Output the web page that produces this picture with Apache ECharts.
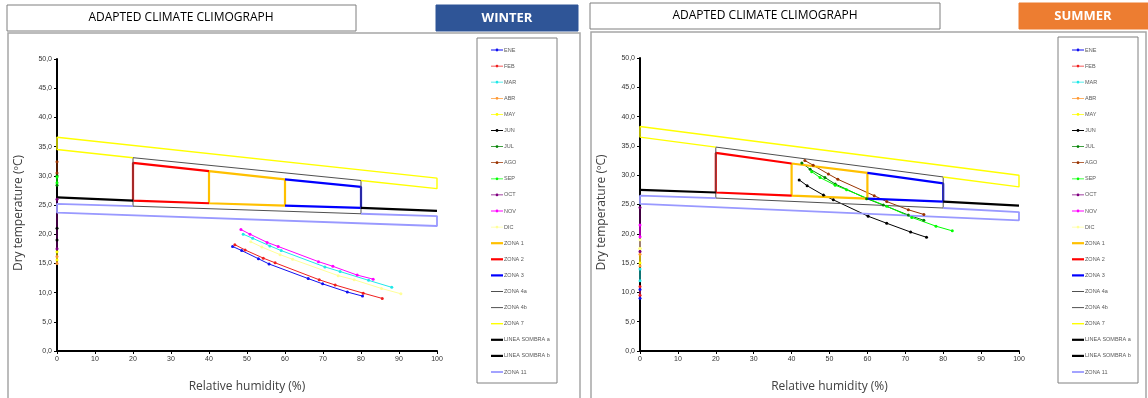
<!DOCTYPE html>
<html>
<head>
<meta charset="utf-8">
<script src="https://cdn.jsdelivr.net/npm/echarts@6/dist/echarts.min.js"></script>
<style>
  html, body { margin: 0; padding: 0; background: #fff; }
  #chart { width: 1148px; height: 398px; }
</style>
</head>
<body>
<div id="chart"></div>
<script>
// legend order and colours
const seriesNames = ['ENE', 'FEB', 'MAR', 'ABR', 'MAY', 'JUN', 'JUL', 'AGO', 'SEP', 'OCT', 'NOV', 'DIC',
  'ZONA 1', 'ZONA 2', 'ZONA 3', 'ZONA 4a', 'ZONA 4b', 'ZONA 7', 'LINEA SOMBRA a', 'LINEA SOMBRA b', 'ZONA 11']
const monthColors = ['#1010F0', '#F02020', '#20E8E8', '#FF9933', '#FFFF00', '#000000',
  '#008000', '#993300', '#00FF00', '#800080', '#FF00FF', '#FFFF99']

const xTicks = [0, 10, 20, 30, 40, 50, 60, 70, 80, 90, 100]
const yTicks = [0, 5, 10, 15, 20, 25, 30, 35, 40, 45, 50]

// WINTER  [relative humidity %, dry temperature ºC]
const winterENE = [[46.2, 17.9], [48.6, 17.2], [53.0, 15.8], [55.8, 14.9], [66.1, 12.4], [69.9, 11.5], [76.4, 10.1], [80.4, 9.4]]
const winterFEB = [[46.8, 18.2], [49.5, 17.3], [54.3, 15.9], [57.4, 15.1], [69.0, 12.2], [73.2, 11.3], [80.6, 9.9], [85.6, 9.0]]
const winterMAR = [[49.0, 20.0], [51.5, 19.3], [56.0, 18.0], [59.0, 17.2], [70.5, 14.4], [74.5, 13.6], [82.0, 12.1], [88.1, 10.9]]
const winterABR = [[0, 15.0], [0, 16.2]]
const winterMAY = [[0, 15.6], [0, 17.0]]
const winterJUN = [[0, 19.0], [0, 21.0]]
const winterJUL = [[0, 28.4], [0, 30.0]]
const winterAGO = [[0, 30.5], [0, 32.4]]
const winterSEP = [[0, 28.8], [0, 29.8]]
const winterOCT = [[0, 17.5], [0, 26.0]]
const winterNOV = [[48.4, 20.8], [50.8, 20.0], [55.3, 18.6], [58.2, 17.9], [68.8, 15.3], [72.6, 14.5], [79.0, 13.0], [83.2, 12.3]]
const winterDIC = [[51.0, 18.7], [53.9, 17.8], [58.7, 16.5], [62.0, 15.7], [74.0, 12.9], [78.2, 12.2], [85.4, 10.7], [90.5, 9.8]]

const winterZona1 = [[40, 30.8], [60, 29.4], [60, 24.9], [40, 25.3], [40, 30.8]]
const winterZona2 = [[40, 30.8], [20, 32.2], [20, 25.75], [40, 25.3]]
const winterZona3 = [[60, 29.4], [80, 28.1], [80, 24.5], [60, 24.9]]
const winterZona4a = [[20, 24.8], [20, 33.1], [80, 29.2]]
const winterZona4b = [[80, 29.2], [80, 23.5], [20, 24.8]]
const winterZona7 = [[20, 33.1], [0, 34.5], [0, 36.6], [100, 29.6], [100, 27.8], [80, 29.2]]
const winterLineaA = [[0, 26.3], [20, 25.75]]
const winterLineaB = [[80, 24.5], [100, 24.0]]
const winterZona11 = [[20, 24.8], [0, 25.2], [0, 23.7], [100, 21.4], [100, 23.1], [80, 23.5]]

// SUMMER
const summerENE = [[0, 9.0], [0, 10.5]]
const summerFEB = [[0, 9.5], [0, 11.0]]
const summerMAR = [[0, 12.0], [0, 14.0]]
const summerABR = [[0, 14.5], [0, 16.5]]
const summerMAY = [[0, 15.0], [0, 17.5]]
const summerJUN = [[42.0, 29.2], [44.1, 28.2], [48.4, 26.6], [51.0, 25.8], [60.2, 23.0], [65.1, 21.8], [71.4, 20.3], [75.6, 19.4]]
const summerJUL = [[42.7, 32.1], [44.9, 31.0], [48.8, 29.6], [51.5, 28.5], [59.8, 26.0], [64.2, 24.9], [70.8, 23.2], [74.9, 22.3]]
const summerAGO = [[43.5, 32.5], [45.7, 31.7], [49.7, 30.2], [52.2, 29.3], [61.8, 26.5], [65.1, 25.5], [70.8, 24.1], [74.9, 23.3]]
const summerSEP = [[45.3, 30.6], [47.5, 29.6], [51.5, 28.3], [54.5, 27.5], [65.1, 24.7], [71.7, 22.8], [78.1, 21.3], [82.4, 20.5]]
const summerOCT = [[0, 17.0], [0, 24.5]]
const summerNOV = [[0, 19.5], [0, 21.5]]
const summerDIC = [[0, 17.5], [0, 19.0]]

const summerZona1 = [[40, 32.0], [60, 30.4], [60, 26.0], [40, 26.5], [40, 32.0]]
const summerZona2 = [[40, 32.0], [20, 33.8], [20, 27.05], [40, 26.5]]
const summerZona3 = [[60, 30.4], [80, 28.6], [80, 25.5], [60, 26.0]]
const summerZona4a = [[20, 26.1], [20, 34.8], [80, 29.7]]
const summerZona4b = [[80, 29.7], [80, 24.4], [20, 26.1]]
const summerZona7 = [[20, 34.8], [0, 36.5], [0, 38.3], [100, 30.0], [100, 28.0], [80, 29.7]]
const summerLineaA = [[0, 27.5], [20, 27.05]]
const summerLineaB = [[80, 25.5], [100, 24.8]]
const summerZona11 = [[20, 26.1], [0, 26.5], [0, 25.1], [100, 22.3], [100, 23.7], [80, 24.4]]

const winterMonths = [winterENE, winterFEB, winterMAR, winterABR, winterMAY, winterJUN,
  winterJUL, winterAGO, winterSEP, winterOCT, winterNOV, winterDIC]
const summerMonths = [summerENE, summerFEB, summerMAR, summerABR, summerMAY, summerJUN,
  summerJUL, summerAGO, summerSEP, summerOCT, summerNOV, summerDIC]
const winterZones = [winterZona1, winterZona2, winterZona3, winterZona4a, winterZona4b,
  winterZona7, winterLineaA, winterLineaB, winterZona11]
const summerZones = [summerZona1, summerZona2, summerZona3, summerZona4a, summerZona4b,
  summerZona7, summerLineaA, summerLineaB, summerZona11]

const zoneStyles = [
  { color: '#FFC000', width: 2.2 },
  { color: '#FF0000', width: 2.2 },
  { color: '#0000FF', width: 2.2 },
  { color: '#505050', width: 1 },
  { color: '#505050', width: 1 },
  { color: '#FFFF00', width: 1.4 },
  { color: '#000000', width: 2.2 },
  { color: '#000000', width: 2.2 },
  { color: '#9999FF', width: 1.8 },
]

function buildSeries(months, zones, gridIdx) {
  const out = []
  months.forEach((d, i) => {
    out.push({
      name: seriesNames[i], type: 'line', data: d,
      xAxisIndex: gridIdx, yAxisIndex: gridIdx,
      symbol: 'circle', symbolSize: 3, showSymbol: true,
      lineStyle: { color: monthColors[i], width: 1 },
      itemStyle: { color: monthColors[i] },
      animation: false, silent: true,
    })
  })
  zones.forEach((d, i) => {
    out.push({
      name: seriesNames[12 + i], type: 'line', data: d,
      xAxisIndex: gridIdx, yAxisIndex: gridIdx,
      symbol: 'none',
      lineStyle: { color: zoneStyles[i].color, width: zoneStyles[i].width },
      itemStyle: { color: zoneStyles[i].color },
      animation: false, silent: true,
    })
  })
  return out
}

const tickFont = { color: '#333', fontSize: 7, fontFamily: 'Liberation Sans' }
const nameFont = { color: '#404040', fontSize: 12, fontFamily: 'Open Sans' }

function xAxisFor(gridIndex) {
  return {
    type: 'value', gridIndex, min: 0, max: 100, interval: 10,
    name: 'Relative humidity (%)', nameLocation: 'middle', nameGap: 30, nameTextStyle: nameFont,
    axisLine: { show: true, lineStyle: { color: '#000', width: 2 } },
    axisTick: { show: true, length: 3, lineStyle: { color: '#000' } },
    axisLabel: { ...tickFont, margin: 5, formatter: v => xTicks.includes(v) ? String(v) : '' },
    splitLine: { show: false },
  }
}
function yAxisFor(gridIndex) {
  return {
    type: 'value', gridIndex, min: 0, max: 50, interval: 5,
    name: 'Dry temperature (ºC)', nameLocation: 'middle', nameGap: 32, nameRotate: 90,
    nameTextStyle: { ...nameFont, padding: [0, 16, 0, 0] },
    axisLine: { show: true, lineStyle: { color: '#000', width: 2 } },
    axisTick: { show: true, length: 3, lineStyle: { color: '#000' } },
    axisLabel: { ...tickFont, margin: 5, formatter: v => yTicks.includes(v) ? v.toFixed(1).replace('.', ',') : '' },
    splitLine: { show: false },
  }
}

// legend icons: thin line with a tiny dot for months, plain line for zones
const monthIcon = 'path://M0,0L0,0M12,6L12,6M0,2.6L12,2.6L12,3.4L0,3.4Z' +
  'M6,1.6A1.4,1.4,0,1,1,6,4.4A1.4,1.4,0,1,1,6,1.6Z'
function zoneIcon(w) {
  const a = (3 - w / 2).toFixed(2), b = (3 + w / 2).toFixed(2)
  return `path://M0,0L0,0M12,6L12,6M0,${a}L12,${a}L12,${b}L0,${b}Z`
}

function legendFor(left) {
  return {
    data: seriesNames.map((n, i) => ({ name: n, icon: i < 12 ? monthIcon : zoneIcon(zoneStyles[i - 12].width) })),
    orient: 'vertical', left, top: 41,
    itemWidth: 12, itemHeight: 6, itemGap: 8.1,
    textStyle: { fontSize: 5.5, color: '#595959', fontFamily: 'Liberation Sans', lineHeight: 8, padding: [0, 0, 0, -4] },
    selectedMode: false,
  }
}

function box(x, y, w, h, fill, stroke, lw) {
  return { type: 'rect', shape: { x, y, width: w, height: h }, style: { fill, stroke, lineWidth: lw }, silent: true, z: 0 }
}
function label(x, y, text, size, color, weight) {
  return {
    type: 'text', x, y, silent: true, z: 5,
    style: { text, fill: color, fontSize: size, fontWeight: weight, fontFamily: 'Open Sans', align: 'center', verticalAlign: 'middle' },
  }
}

const chart = echarts.init(document.getElementById('chart'))
chart.setOption({
  backgroundColor: '#fff',
  animation: false,
  graphic: [
    box(8, 33, 572, 372, '#fff', '#A6A6A6', 1.5),
    box(591, 32, 555, 372, '#fff', '#A6A6A6', 1.5),
    box(7, 5, 349, 26, '#fff', '#7F7F7F', 1),
    box(436, 5, 142, 26, '#2F5597', '#2F5597', 1),
    box(590, 3, 350, 26, '#fff', '#7F7F7F', 1),
    box(1019, 3, 132, 26, '#ED7D31', '#ED7D31', 1),
    box(477, 38, 80, 345, '#fff', '#808080', 1),
    box(1058, 37, 80, 346, '#fff', '#808080', 1),
    label(181, 18, 'ADAPTED CLIMATE CLIMOGRAPH', 12, '#000', 'normal'),
    label(507, 18, 'WINTER', 13, '#fff', 'bold'),
    label(765, 16, 'ADAPTED CLIMATE CLIMOGRAPH', 12, '#000', 'normal'),
    label(1083, 16, 'SUMMER', 13, '#fff', 'bold'),
  ],
  grid: [
    { left: 57, top: 59, width: 380, height: 299, show: true, backgroundColor: '#C0C0C0', borderColor: '#808080', borderWidth: 1 },
    { left: 640, top: 58, width: 379, height: 297, show: true, backgroundColor: '#C0C0C0', borderColor: '#808080', borderWidth: 1 },
  ],
  xAxis: [xAxisFor(0), xAxisFor(1)],
  yAxis: [yAxisFor(0), yAxisFor(1)],
  legend: [legendFor(486), legendFor(1067)],
  series: [...buildSeries(winterMonths, winterZones, 0), ...buildSeries(summerMonths, summerZones, 1)],
})
</script>
</body>
</html>
